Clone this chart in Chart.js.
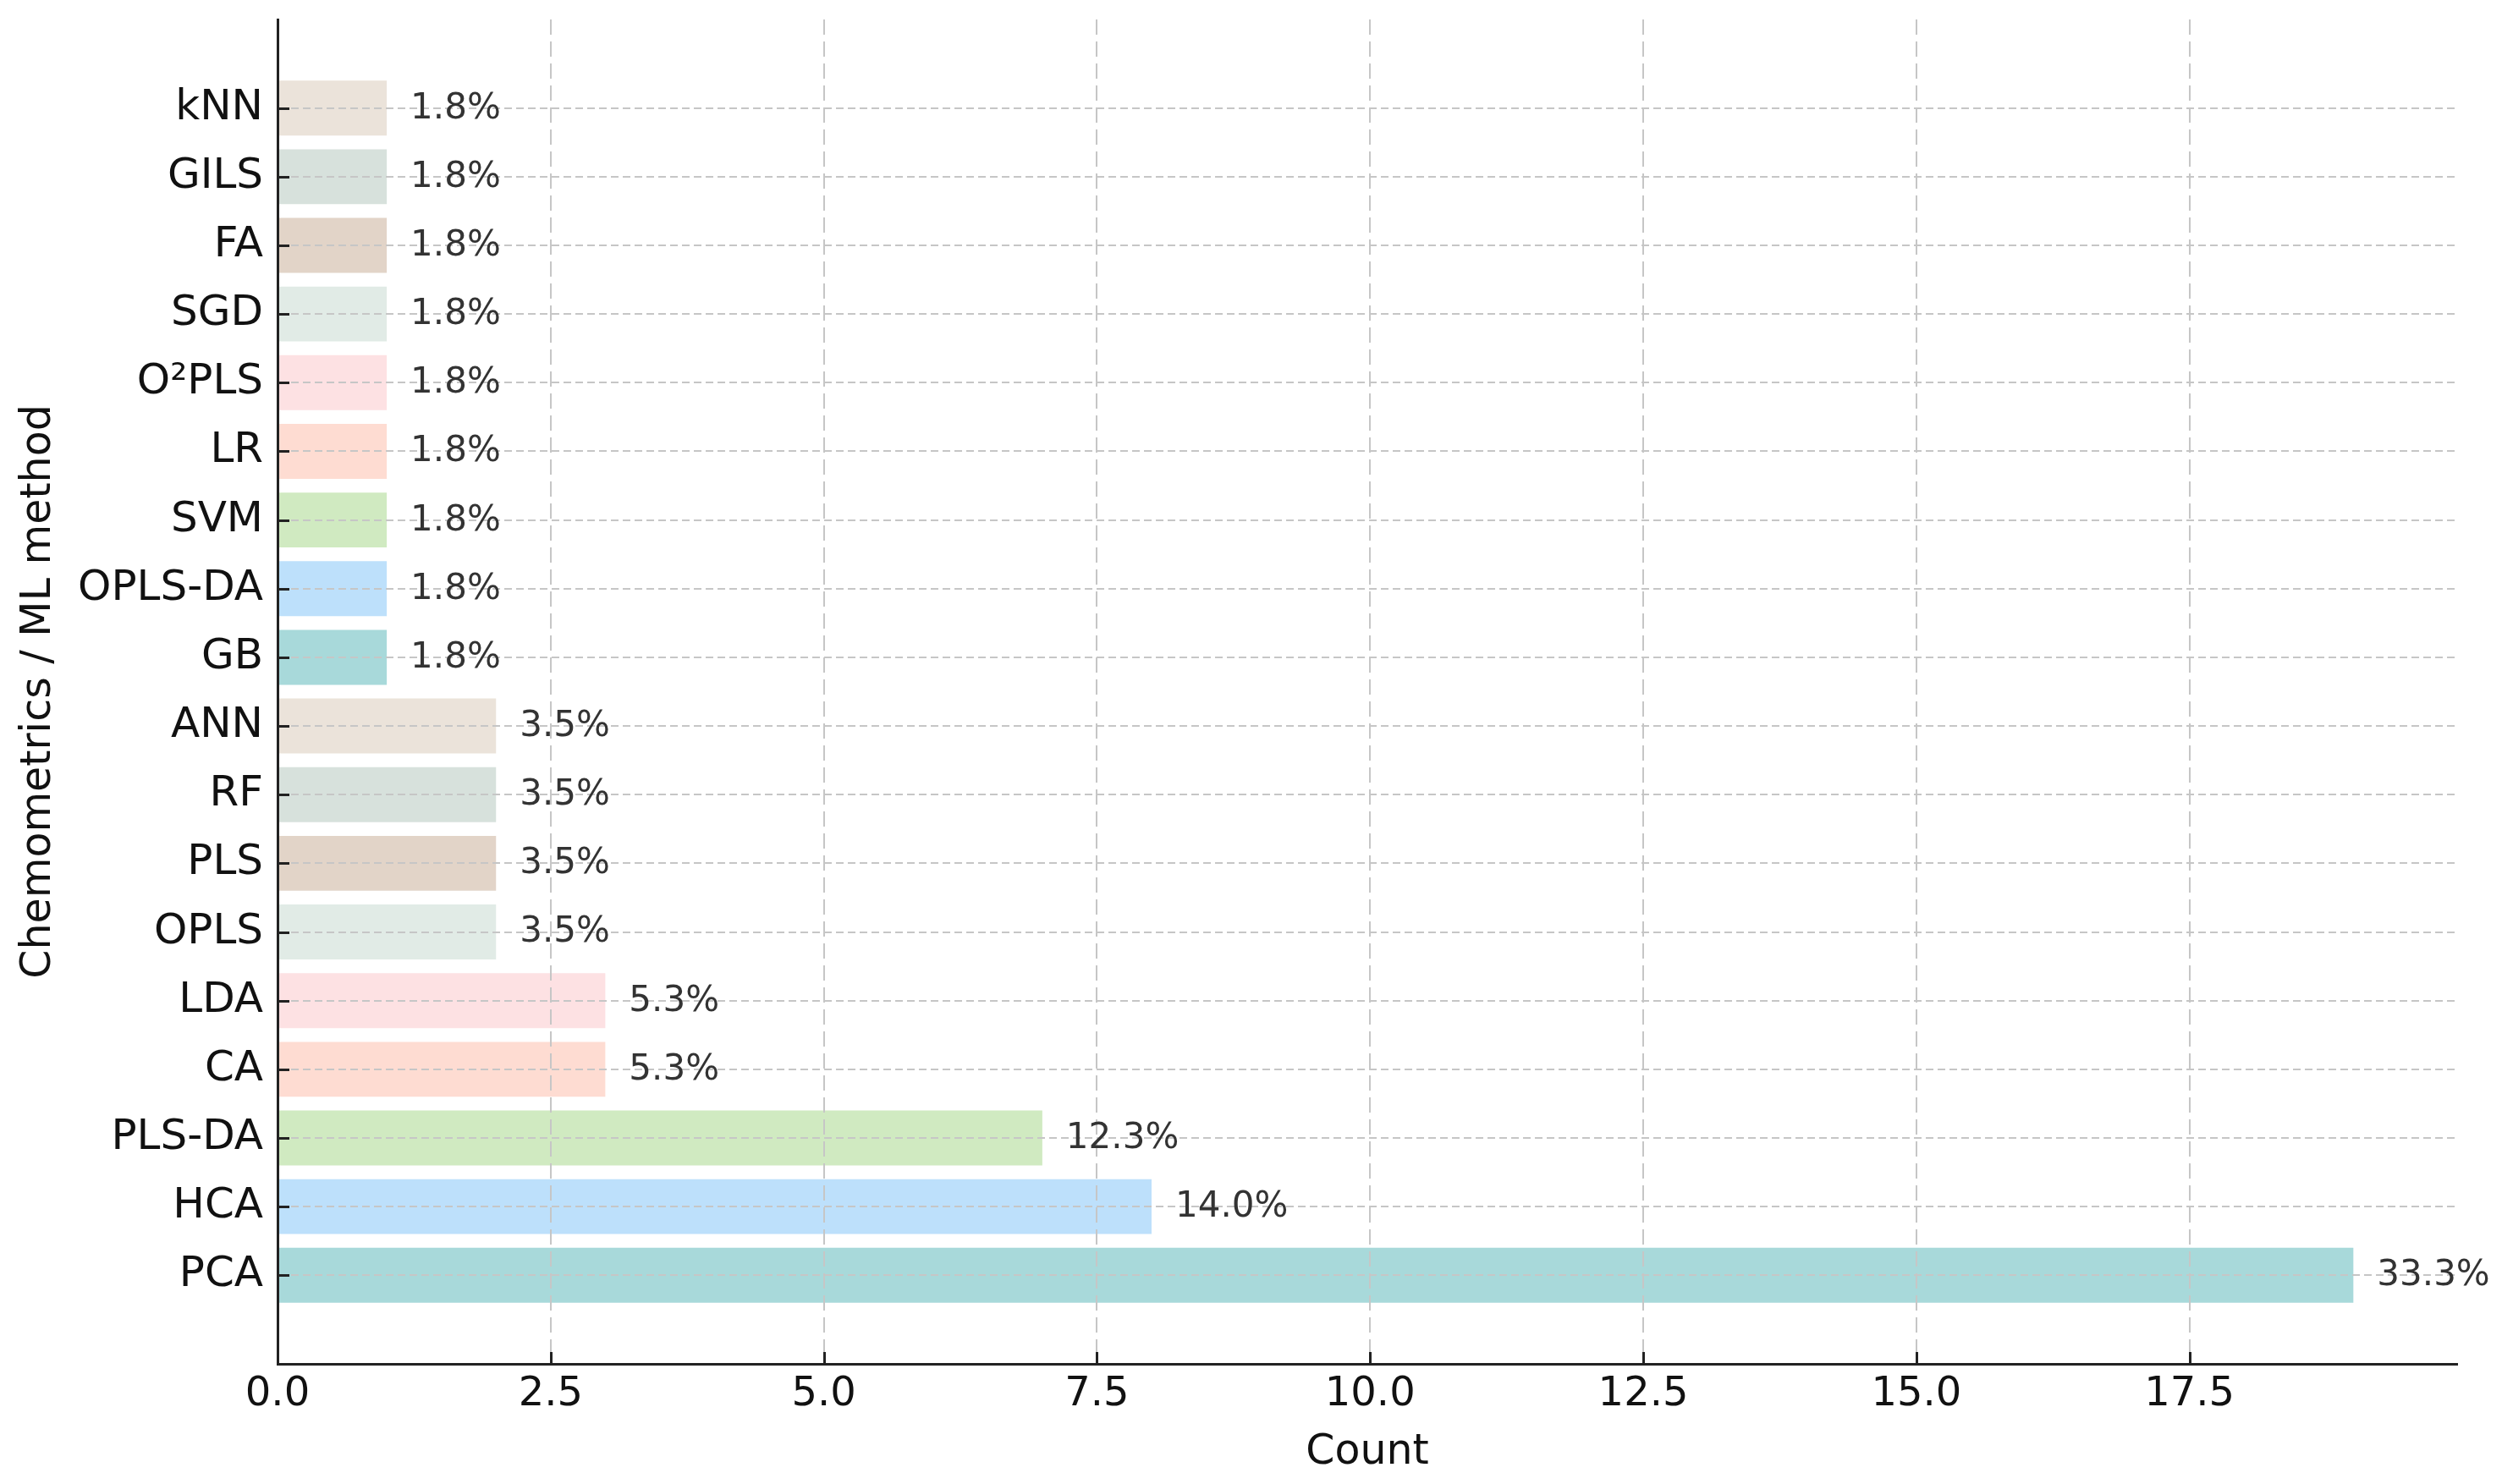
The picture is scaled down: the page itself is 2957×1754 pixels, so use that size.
<!DOCTYPE html>
<html lang="en">
<head>
    <meta charset="UTF-8">
    <title>Chemometrics / ML methods</title>
    <script src="https://cdn.jsdelivr.net/npm/chart.js"></script>
    <style>
        body {
            margin: 0;
            padding: 0;
            background-color: #fff;
        }
        canvas {
            display: block;
        }
    </style>
</head>
<body>
    <canvas id="methodChart" width="2957" height="1754"></canvas>

    <script>
        // bottom to top, as in the figure
        const methods = ['PCA', 'HCA', 'PLS-DA', 'CA', 'LDA', 'OPLS', 'PLS', 'RF', 'ANN',
                         'GB', 'OPLS-DA', 'SVM', 'LR', 'O²PLS', 'SGD', 'FA', 'GILS', 'kNN'];
        const counts = [19, 8, 7, 3, 3, 2, 2, 2, 2, 1, 1, 1, 1, 1, 1, 1, 1, 1];
        const percentLabels = ['33.3%', '14.0%', '12.3%', '5.3%', '5.3%', '3.5%', '3.5%', '3.5%', '3.5%',
                               '1.8%', '1.8%', '1.8%', '1.8%', '1.8%', '1.8%', '1.8%', '1.8%', '1.8%'];
        const barColors = ['#a8d9da', '#bde0fb', '#d0eac1', '#fedcd2', '#fde1e3', '#e1ebe6', '#e2d4c8', '#d7e1dc', '#ebe3da',
                           '#a8d9da', '#bde0fb', '#d0eac1', '#fedcd2', '#fde1e3', '#e1ebe6', '#e2d4c8', '#d7e1dc', '#ebe3da'];
        const xTicks = [0, 2.5, 5, 7.5, 10, 12.5, 15, 17.5];

        Chart.defaults.font.family = "'DejaVu Sans', sans-serif";
        Chart.defaults.color = '#111';

        // value labels at the end of each bar + inward tick marks
        const barLabels = {
            id: 'barLabels',
            afterDraw(chart) {
                const ctx = chart.ctx;
                const meta = chart.getDatasetMeta(0);
                ctx.save();
                ctx.font = "42px 'DejaVu Sans'";
                ctx.fillStyle = '#333';
                ctx.textAlign = 'left';
                ctx.textBaseline = 'middle';
                meta.data.forEach((bar, i) => {
                    ctx.fillText(percentLabels[i], bar.x + 28, bar.y + 1);
                });

                const area = chart.chartArea;
                const xs = chart.scales.x;
                const ys = chart.scales.y;
                ctx.strokeStyle = '#222';
                ctx.lineWidth = 3;
                ctx.beginPath();
                methods.forEach((m, i) => {
                    const y = Math.round(ys.getPixelForValue(i)) + 0.5;
                    ctx.moveTo(area.left, y);
                    ctx.lineTo(area.left + 14, y);
                });
                xTicks.forEach(v => {
                    const x = Math.round(xs.getPixelForValue(v)) + 0.5;
                    ctx.moveTo(x, area.bottom);
                    ctx.lineTo(x, area.bottom - 14);
                });
                ctx.stroke();
                ctx.restore();
            }
        };

        const ctx = document.getElementById('methodChart').getContext('2d');
        new Chart(ctx, {
            type: 'bar',
            data: {
                datasets: [{
                    data: methods.map((m, i) => ({ x: counts[i], y: i })),
                    backgroundColor: barColors,
                    borderWidth: 0,
                    barPercentage: 0.8,
                    categoryPercentage: 1.0
                }]
            },
            options: {
                indexAxis: 'y',
                responsive: false,
                animation: false,
                layout: {
                    padding: { top: 23, right: 53, left: 0, bottom: 0 }
                },
                plugins: {
                    legend: { display: false },
                    tooltip: { enabled: false }
                },
                scales: {
                    x: {
                        type: 'linear',
                        min: 0,
                        max: 19.95,
                        offset: false,
                        afterBuildTicks: scale => {
                            scale.ticks = xTicks.map(v => ({ value: v }));
                        },
                        afterFit: scale => {
                            scale.height = 142;
                        },
                        ticks: {
                            callback: v => v.toFixed(1),
                            font: { size: 48 },
                            color: '#111',
                            padding: 8,
                            maxRotation: 0,
                            z: 2
                        },
                        grid: {
                            color: '#c6c6c6',
                            lineWidth: 2,
                            drawTicks: false,
                            offset: false,
                            z: 1
                        },
                        border: {
                            color: '#222',
                            width: 3,
                            dash: [18, 8],
                            z: 2
                        },
                        title: {
                            display: true,
                            text: 'Count',
                            font: { size: 49 },
                            color: '#111',
                            padding: { top: 0, bottom: 7 }
                        }
                    },
                    y: {
                        type: 'linear',
                        min: -1.29,
                        max: 18.29,
                        offset: false,
                        afterBuildTicks: scale => {
                            scale.ticks = methods.map((m, i) => ({ value: i }));
                        },
                        afterFit: scale => {
                            scale.width = 328;
                            scale.paddingTop = 0;
                            scale.paddingBottom = 0;
                        },
                        ticks: {
                            callback: v => methods[v],
                            font: { size: 50 },
                            color: '#111',
                            padding: 17,
                            z: 2
                        },
                        grid: {
                            color: '#c6c6c6',
                            lineWidth: 2,
                            drawTicks: false,
                            offset: false,
                            z: 1
                        },
                        border: {
                            color: '#222',
                            width: 3,
                            dash: [9, 5],
                            z: 2
                        },
                        title: {
                            display: true,
                            text: 'Chemometrics / ML method',
                            font: { size: 49 },
                            color: '#111',
                            padding: { top: 17, bottom: 0 }
                        }
                    }
                }
            },
            plugins: [barLabels]
        });
    </script>
</body>
</html>
